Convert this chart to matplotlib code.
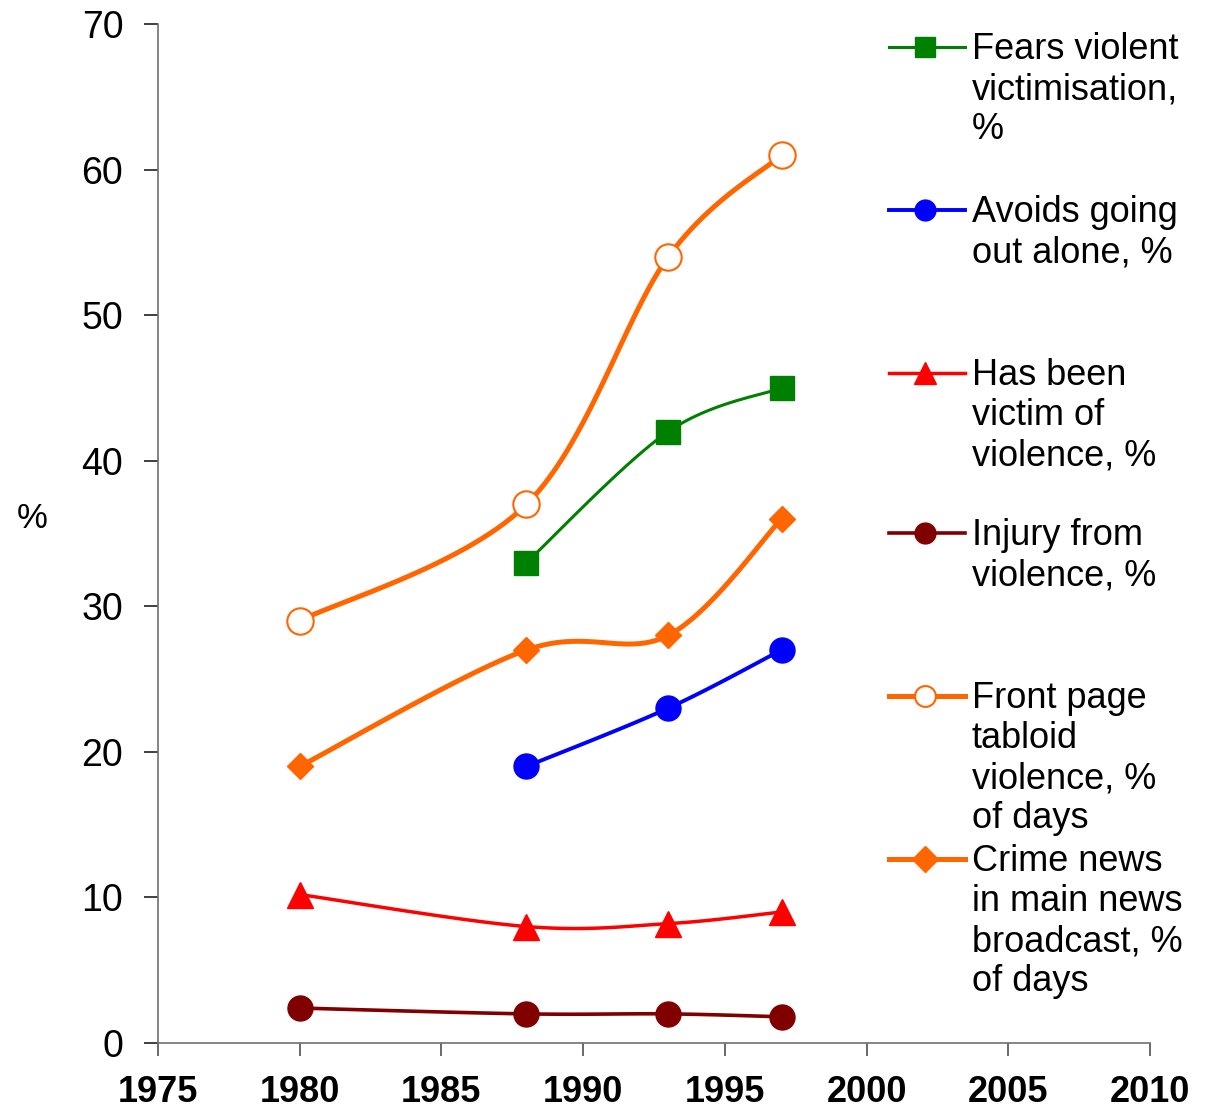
import numpy as np
import matplotlib
matplotlib.use("Agg")
import matplotlib.pyplot as plt
from matplotlib.lines import Line2D

plt.rcParams['font.family'] = ['Liberation Sans', 'DejaVu Sans']

# ---- data ----
years_fear = [1988, 1993, 1997]
fear = [33, 42, 45]
years_avoid = [1988, 1993, 1997]
avoid = [19, 23, 27]
years_victim = [1980, 1988, 1993, 1997]
victim = [10.2, 8.0, 8.2, 9.0]
years_injury = [1980, 1988, 1993, 1997]
injury = [2.4, 2.0, 2.0, 1.8]
years_tabloid = [1980, 1988, 1993, 1997]
tabloid = [29, 37, 54, 61]
years_crime = [1980, 1988, 1993, 1997]
crime = [19, 27, 28, 36]

labels = ["Fears violent\nvictimisation,\n%",
          "Avoids going\nout alone, %",
          "Has been\nvictim of\nviolence, %",
          "Injury from\nviolence, %",
          "Front page\ntabloid\nviolence, %\nof days",
          "Crime news\nin main news\nbroadcast, %\nof days"]
xticks = [1975, 1980, 1985, 1990, 1995, 2000, 2005, 2010]
yticks = [0, 10, 20, 30, 40, 50, 60, 70]

ORANGE = '#FF6600'
styles = [
    dict(color='#008000', lw=2.2, marker='s', ms=17, lms=15, mfc='#008000', mec='#008000', mew=1),
    dict(color='#0000FF', lw=2.8, marker='o', ms=18, lms=15, mfc='#0000FF', mec='#0000FF', mew=1),
    dict(color='#FF0000', lw=2.5, marker='^', ms=19, lms=16, mfc='#FF0000', mec='#FF0000', mew=1),
    dict(color='#800000', lw=2.6, marker='o', ms=18, lms=15, mfc='#800000', mec='#800000', mew=1),
    dict(color=ORANGE, lw=3.6, marker='o', ms=19, lms=15, mfc='white', mec=ORANGE, mew=1.5),
    dict(color=ORANGE, lw=3.6, marker='D', ms=13, lms=13, mfc=ORANGE, mec=ORANGE, mew=1),
]
series = [(years_fear, fear), (years_avoid, avoid), (years_victim, victim),
          (years_injury, injury), (years_tabloid, tabloid), (years_crime, crime)]


def smooth(xs, ys, n=30):
    """Excel-style smoothed line: cubic Bezier with Catmull-Rom controls."""
    p = np.column_stack([xs, ys]).astype(float)
    ext = np.vstack([p[0], p, p[-1]])
    out = []
    t = np.linspace(0, 1, n)[:, None]
    for i in range(len(p) - 1):
        p0, p1 = ext[i + 1], ext[i + 2]
        c1 = p0 + (ext[i + 2] - ext[i]) / 6.0
        c2 = p1 - (ext[i + 3] - ext[i + 1]) / 6.0
        seg = ((1 - t) ** 3) * p0 + 3 * ((1 - t) ** 2) * t * c1 + 3 * (1 - t) * t ** 2 * c2 + t ** 3 * p1
        out.append(seg if i == 0 else seg[1:])
    out = np.vstack(out)
    return out[:, 0], out[:, 1]


W, H = 1205, 1113
fig = plt.figure(figsize=(W / 100, H / 100), dpi=100)
ax = fig.add_axes([158 / W, (H - 1043) / H, (1150 - 158) / W, (1043 - 24) / H])

for (xs, ys), st in zip(series, styles):
    sx, sy = smooth(xs, ys)
    ax.plot(sx, sy, color=st['color'], lw=st['lw'], solid_capstyle='round', zorder=2)
    ax.plot(xs, ys, linestyle='none', marker=st['marker'], ms=st['ms'], mfc=st['mfc'],
            mec=st['mec'], mew=st['mew'], zorder=3, clip_on=False)

ax.set_xlim(1975, 2010)
ax.set_ylim(0, 70)
ax.set_xticks(xticks)
ax.set_yticks(yticks)
ax.set_xticklabels([str(v) for v in xticks], fontsize=26, fontweight='bold')
ax.set_yticklabels([str(v) for v in yticks], fontsize=27)
for s in ['top', 'right']:
    ax.spines[s].set_visible(False)
for s in ['left', 'bottom']:
    ax.spines[s].set_color('#707070')
    ax.spines[s].set_linewidth(1.2)
ax.tick_params(axis='y', direction='out', length=10, width=1.2, color='#202020', pad=15)
ax.tick_params(axis='x', direction='out', length=9, width=1.2, color='#505050', pad=14)
ax.set_ylabel('%', fontsize=25, rotation=0, va='center', ha='center')
ax.yaxis.set_label_coords((32 - 158) / (1150 - 158), (1043 - 518) / (1043 - 24))

# ---- legend (drawn in figure pixel coordinates) ----
lax = fig.add_axes([0, 0, 1, 1], facecolor='none')
lax.set_xlim(0, W)
lax.set_ylim(H, 0)
lax.axis('off')
handle_y = [47, 210, 373, 533, 696, 859]
for hy, lab, st in zip(handle_y, labels, styles):
    lax.add_line(Line2D([889, 965], [hy, hy], color=st['color'], lw=st['lw']))
    lax.add_line(Line2D([925], [hy], linestyle='none', marker=st['marker'], ms=st['lms'],
                        mfc=st['mfc'], mec=st['mec'], mew=st['mew']))
    lax.text(972, hy - 15, lab, fontsize=26, va='top', ha='left', linespacing=1.19)

fig.savefig('out.png', dpi=100)
